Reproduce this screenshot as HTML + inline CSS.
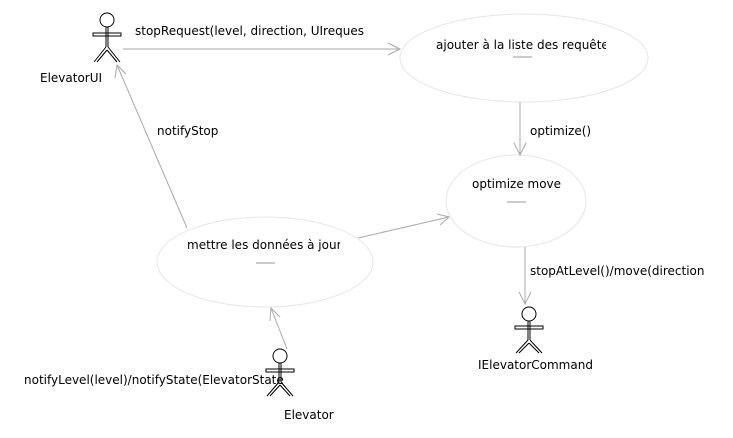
<!DOCTYPE html>
<html><head><style>body{margin:0;background:#fff}svg text{font-family:"DejaVu Sans",sans-serif;font-size:12px;fill:#000}</style></head>
<body>
<svg width="733" height="433" viewBox="0 0 733 433" xmlns="http://www.w3.org/2000/svg">
<defs>
<clipPath id="c1"><rect x="400" y="20" width="206" height="40"/></clipPath>
<clipPath id="c2"><rect x="150" y="230" width="190" height="30"/></clipPath>
<clipPath id="c3"><rect x="520" y="255" width="185" height="30"/></clipPath>
<clipPath id="c4"><rect x="130" y="15" width="245" height="30"/></clipPath>
</defs>
<g fill="none" stroke="#e6e6e6">
<ellipse cx="524" cy="58" rx="124" ry="44"/>
<ellipse cx="516" cy="201" rx="70" ry="46"/>
<ellipse cx="265" cy="262" rx="108" ry="45"/>
</g>
<g stroke="#999" fill="none">
<line x1="513" y1="57" x2="532" y2="57"/>
<line x1="507" y1="202" x2="526" y2="202"/>
<line x1="256" y1="263" x2="275" y2="263"/>
</g>
<g stroke="#aaa" fill="none" stroke-width="1">
<line x1="123" y1="49" x2="400" y2="49"/><polyline points="388,43 400,49 388,55"/>
<line x1="520" y1="102" x2="520" y2="155"/><polyline points="514,143 520,155 526,143"/>
<line x1="525" y1="247" x2="525" y2="304"/><polyline points="519,292 525,304 531,292"/>
<line x1="358" y1="238" x2="449" y2="217"/><polyline points="437,214 449,217 440,225"/>
<line x1="187" y1="228" x2="117" y2="65"/><polyline points="115,78 117,65 126,74"/>
<line x1="287" y1="349" x2="271" y2="308"/><polyline points="270,321 271,308 280,317"/>
</g>
<g stroke="#000" fill="none" stroke-width="1">
<circle cx="107" cy="20" r="7"/><rect x="93" y="33" width="28" height="3"/><line x1="106" y1="27" x2="106" y2="47"/><line x1="108" y1="27" x2="108" y2="47"/><path d="M94,62 L106,47 M97,62 L107,50 M120,62 L108,47 M117,62 L107,50"/>
<circle cx="280" cy="356" r="7"/><rect x="266" y="369" width="28" height="3"/><line x1="279" y1="363" x2="279" y2="382"/><line x1="281" y1="363" x2="281" y2="382"/><path d="M267,396 L279,382 M270,396 L280,385 M293,396 L281,382 M290,396 L280,385"/>
<circle cx="529" cy="314" r="7"/><rect x="515" y="326" width="28" height="3"/><line x1="528" y1="321" x2="528" y2="340"/><line x1="530" y1="321" x2="530" y2="340"/><path d="M516,353 L528,340 M519,353 L529,343 M542,353 L530,340 M539,353 L529,343"/>
</g>
<text x="135" y="35" clip-path="url(#c4)">stopRequest(level, direction, UIreques</text>
<text x="40" y="82">ElevatorUI</text>
<text x="436" y="49" clip-path="url(#c1)">ajouter à la liste des requêtes</text>
<text x="530" y="135">optimize()</text>
<text x="472" y="188">optimize move</text>
<text x="157" y="135">notifyStop</text>
<text x="187" y="249" clip-path="url(#c2)">mettre les données à jour</text>
<text x="530" y="275" clip-path="url(#c3)">stopAtLevel()/move(direction)</text>
<text x="478" y="369">IElevatorCommand</text>
<text x="24" y="384">notifyLevel(level)/notifyState(ElevatorState</text>
<text x="284" y="419">Elevator</text>
</svg>
</body></html>
